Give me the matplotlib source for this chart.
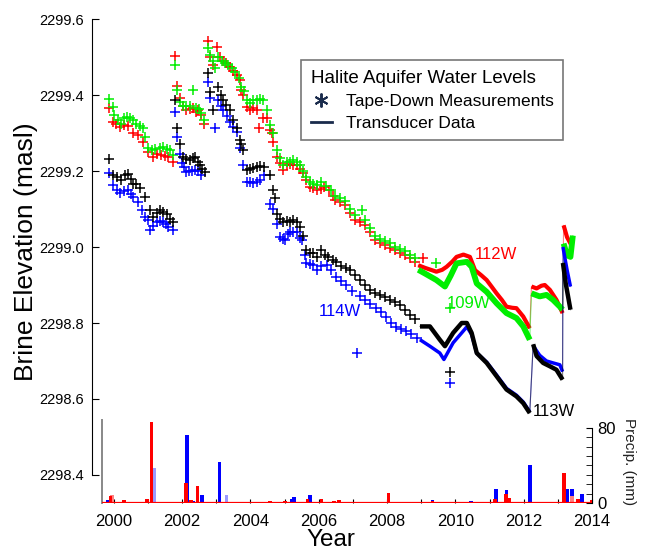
import numpy as np
import matplotlib
matplotlib.use("Agg")
import matplotlib.pyplot as plt
from matplotlib.lines import Line2D

plt.rcParams["font.family"] = ["Liberation Sans", "DejaVu Sans"]

# ---- tape-down measurements (year, brine elevation in masl) ----
red_tape_t = [1999.86, 1999.98, 2000.05, 2000.18, 2000.30, 2000.42, 2000.57, 2000.71, 2000.86, 2001.00,
              2001.15, 2001.27, 2001.39, 2001.50, 2001.59, 2001.73,
              2001.80, 2001.86, 2001.93, 2002.03, 2002.12, 2002.22, 2002.32, 2002.41, 2002.47, 2002.56, 2002.63,
              2002.74, 2002.82, 2002.90, 2003.02, 2003.10, 2003.20, 2003.29, 2003.39, 2003.49, 2003.59,
              2003.68, 2003.73, 2003.78, 2003.88, 2003.97, 2004.07, 2004.17, 2004.24, 2004.37, 2004.47,
              2004.56, 2004.61, 2004.66, 2004.76, 2004.85, 2004.95, 2005.05, 2005.15, 2005.24, 2005.34,
              2005.44, 2005.54, 2005.63, 2005.73, 2005.83, 2005.93, 2006.05, 2006.15, 2006.30, 2006.40,
              2006.46, 2006.60, 2006.75, 2006.90, 2007.05, 2007.20, 2007.34, 2007.50, 2007.63, 2007.78,
              2007.92, 2008.07, 2008.22, 2008.36, 2008.51, 2008.65, 2008.80, 2009.05]
red_tape_v = [2299.365, 2299.330, 2299.325, 2299.317, 2299.320, 2299.318, 2299.300, 2299.295, 2299.277, 2299.251,
              2299.238, 2299.245, 2299.242, 2299.240, 2299.238, 2299.225,
              2299.503, 2299.424, 2299.391, 2299.370, 2299.360, 2299.362, 2299.365, 2299.355, 2299.360, 2299.347, 2299.325,
              2299.543, 2299.500, 2299.480, 2299.527, 2299.500, 2299.490, 2299.483, 2299.474, 2299.462, 2299.452,
              2299.440, 2299.413, 2299.400, 2299.369, 2299.360, 2299.365, 2299.360, 2299.312, 2299.339, 2299.340,
              2299.308, 2299.300, 2299.277, 2299.238, 2299.220, 2299.203, 2299.215, 2299.218, 2299.216, 2299.216,
              2299.205, 2299.194, 2299.176, 2299.159, 2299.155, 2299.150, 2299.152, 2299.159, 2299.150, 2299.135,
              2299.124, 2299.118, 2299.111, 2299.090, 2299.071, 2299.065, 2299.058, 2299.040, 2299.018, 2299.010,
              2299.005, 2298.998, 2298.992, 2298.985, 2298.979, 2298.970, 2298.961, 2298.970]

green_tape_t = [1999.86, 1999.98, 2000.01, 2000.13, 2000.22, 2000.30, 2000.37, 2000.47, 2000.57, 2000.66,
                2000.76, 2000.86, 2000.91, 2001.00, 2001.10, 2001.20, 2001.35, 2001.45, 2001.55, 2001.65, 2001.73,
                2001.80, 2001.86, 2001.93, 2002.03, 2002.12, 2002.22, 2002.32, 2002.41, 2002.50, 2002.56, 2002.63,
                2002.74, 2002.80, 2002.90, 2002.95, 2003.05, 2003.15, 2003.25, 2003.35, 2003.45, 2003.55,
                2003.65, 2003.73, 2003.80, 2003.88, 2003.97, 2004.07, 2004.17, 2004.27, 2004.37, 2004.47,
                2004.56, 2004.66, 2004.76, 2004.85, 2004.95, 2005.05, 2005.15, 2005.24, 2005.34, 2005.44,
                2005.54, 2005.63, 2005.73, 2005.83, 2005.93, 2006.05, 2006.20, 2006.35, 2006.46, 2006.60,
                2006.75, 2006.90, 2007.05, 2007.25, 2007.34, 2007.50, 2007.63, 2007.78, 2007.92, 2008.07,
                2008.22, 2008.36, 2008.51, 2008.65, 2008.80, 2009.43, 2009.83]
green_tape_v = [2299.389, 2299.369, 2299.347, 2299.334, 2299.325, 2299.340, 2299.343, 2299.339, 2299.334, 2299.325,
                2299.318, 2299.312, 2299.290, 2299.260, 2299.255, 2299.258, 2299.260, 2299.262, 2299.258, 2299.255, 2299.242,
                2299.479, 2299.413, 2299.382, 2299.370, 2299.372, 2299.370, 2299.413, 2299.365, 2299.362, 2299.352, 2299.335,
                2299.523, 2299.505, 2299.490, 2299.470, 2299.500, 2299.490, 2299.485, 2299.478, 2299.470, 2299.460,
                2299.445, 2299.420, 2299.410, 2299.387, 2299.378, 2299.387, 2299.387, 2299.390, 2299.387, 2299.360,
                2299.320, 2299.300, 2299.255, 2299.235, 2299.215, 2299.225, 2299.225, 2299.228, 2299.225, 2299.215,
                2299.200, 2299.185, 2299.170, 2299.165, 2299.162, 2299.170, 2299.160, 2299.150, 2299.135, 2299.130,
                2299.120, 2299.100, 2299.085, 2299.097, 2299.070, 2299.050, 2299.030, 2299.020, 2299.015, 2299.010,
                2299.000, 2298.995, 2298.990, 2298.980, 2298.970, 2298.957, 2298.840]

black_tape_t = [1999.86, 1999.98, 2000.08, 2000.22, 2000.32, 2000.42, 2000.50, 2000.57, 2000.66, 2000.76,
                2000.91, 2001.05, 2001.15, 2001.25, 2001.35, 2001.45, 2001.54, 2001.64, 2001.73,
                2001.80, 2001.86, 2001.93, 2002.03, 2002.12, 2002.22, 2002.30, 2002.37, 2002.45, 2002.51, 2002.58, 2002.66,
                2002.74, 2002.81, 2002.90, 2003.05, 2003.12, 2003.20, 2003.29, 2003.39, 2003.49, 2003.59,
                2003.68, 2003.73, 2003.78, 2003.88, 2003.97, 2004.07, 2004.17, 2004.27, 2004.40, 2004.56,
                2004.66, 2004.71, 2004.76, 2004.85, 2004.95, 2005.05, 2005.15, 2005.24, 2005.34, 2005.44,
                2005.54, 2005.63, 2005.73, 2005.83, 2005.93, 2006.07, 2006.17, 2006.27, 2006.40, 2006.50,
                2006.65, 2006.80, 2006.90, 2007.05, 2007.19, 2007.35, 2007.49, 2007.63, 2007.78, 2007.92,
                2008.07, 2008.22, 2008.36, 2008.50, 2008.65, 2008.80, 2009.83]
black_tape_v = [2299.231, 2299.189, 2299.185, 2299.176, 2299.190, 2299.192, 2299.180, 2299.167, 2299.165, 2299.154,
                2299.132, 2299.097, 2299.079, 2299.090, 2299.097, 2299.093, 2299.088, 2299.075, 2299.066,
                2299.387, 2299.312, 2299.270, 2299.238, 2299.232, 2299.229, 2299.235, 2299.238, 2299.225, 2299.216, 2299.205, 2299.198,
                2299.457, 2299.409, 2299.360, 2299.420, 2299.400, 2299.387, 2299.375, 2299.360, 2299.335, 2299.312,
                2299.282, 2299.270, 2299.255, 2299.203, 2299.205, 2299.208, 2299.210, 2299.212, 2299.210, 2299.190,
                2299.150, 2299.130, 2299.088, 2299.075, 2299.066, 2299.068, 2299.066, 2299.070, 2299.066, 2299.053,
                2299.030, 2298.992, 2298.985, 2298.983, 2298.975, 2298.992, 2298.980, 2298.975, 2298.965, 2298.960,
                2298.950, 2298.945, 2298.940, 2298.925, 2298.913, 2298.900, 2298.887, 2298.880, 2298.874, 2298.868,
                2298.861, 2298.855, 2298.847, 2298.835, 2298.821, 2298.810, 2298.670]

blue_tape_t = [1999.86, 1999.98, 2000.08, 2000.18, 2000.30, 2000.42, 2000.50, 2000.57, 2000.71, 2000.81,
               2000.90, 2001.00, 2001.05, 2001.15, 2001.25, 2001.35, 2001.44, 2001.52, 2001.59, 2001.73,
               2001.80, 2001.86, 2001.93, 2001.98, 2002.05, 2002.12, 2002.20, 2002.27, 2002.37, 2002.47, 2002.56,
               2002.74, 2002.81, 2002.95, 2003.05, 2003.12, 2003.20, 2003.30, 2003.39, 2003.49, 2003.59,
               2003.68, 2003.78, 2003.88, 2003.97, 2004.07, 2004.17, 2004.27, 2004.40, 2004.56, 2004.66,
               2004.76, 2004.85, 2004.95, 2005.00, 2005.10, 2005.15, 2005.24, 2005.34, 2005.44, 2005.49,
               2005.58, 2005.63, 2005.73, 2005.83, 2005.93, 2006.07, 2006.22, 2006.35, 2006.50, 2006.65,
               2006.80, 2006.95, 2007.10, 2007.20, 2007.35, 2007.50, 2007.65, 2007.80, 2007.95, 2008.10,
               2008.25, 2008.40, 2008.55, 2008.70, 2008.85, 2009.83]
blue_tape_v = [2299.194, 2299.163, 2299.150, 2299.141, 2299.148, 2299.150, 2299.140, 2299.132, 2299.119, 2299.097,
               2299.080, 2299.071, 2299.044, 2299.055, 2299.066, 2299.068, 2299.066, 2299.060, 2299.053, 2299.044,
               2299.356, 2299.290, 2299.246, 2299.220, 2299.210, 2299.198, 2299.200, 2299.200, 2299.202, 2299.200, 2299.189,
               2299.435, 2299.391, 2299.312, 2299.387, 2299.370, 2299.360, 2299.345, 2299.330, 2299.315, 2299.303,
               2299.260, 2299.216, 2299.172, 2299.170, 2299.168, 2299.170, 2299.175, 2299.190, 2299.114, 2299.101,
               2299.060, 2299.027, 2299.020, 2299.018, 2299.035, 2299.040, 2299.040, 2299.040, 2299.025, 2299.018,
               2298.980, 2298.957, 2298.955, 2298.953, 2298.940, 2298.950, 2298.953, 2298.940, 2298.920, 2298.910,
               2298.900, 2298.885, 2298.720, 2298.870, 2298.860, 2298.850, 2298.840, 2298.830, 2298.815, 2298.800,
               2298.790, 2298.785, 2298.778, 2298.770, 2298.760, 2298.642]

# ---- transducer records ----
red_tr_t = [2008.90, 2009.10, 2009.43, 2009.60, 2009.73, 2009.90, 2010.02, 2010.22, 2010.41, 2010.56, 2010.75,
            2010.90, 2011.05, 2011.19, 2011.35, 2011.48, 2011.65, 2011.77, 2011.97, 2012.16,
            2012.21, 2012.36, 2012.50, 2012.60, 2012.75, 2012.94, 2013.12,
            2013.15, 2013.25, 2013.35, 2013.42]
red_tr_v = [2298.952, 2298.945, 2298.935, 2298.940, 2298.948, 2298.962, 2298.974, 2298.980, 2298.974, 2298.939, 2298.925,
            2298.913, 2298.895, 2298.878, 2298.860, 2298.843, 2298.840, 2298.839, 2298.817, 2298.786,
            2298.896, 2298.891, 2298.898, 2298.900, 2298.887, 2298.861, 2298.826,
            2299.057, 2299.026, 2299.009, 2299.026]

green_tr_t = [2008.90, 2009.10, 2009.43, 2009.68, 2009.85, 2010.02, 2010.32, 2010.46, 2010.61, 2010.90,
              2011.19, 2011.48, 2011.77, 2011.97, 2012.16,
              2012.21, 2012.45, 2012.65, 2012.84, 2013.04, 2013.12,
              2013.15, 2013.25, 2013.35, 2013.42]
green_tr_v = [2298.940, 2298.930, 2298.913, 2298.896, 2298.925, 2298.957, 2298.961, 2298.948, 2298.904, 2298.882,
              2298.852, 2298.826, 2298.813, 2298.791, 2298.756,
              2298.878, 2298.870, 2298.874, 2298.861, 2298.843, 2298.835,
              2299.009, 2298.978, 2298.974, 2299.030]

black_tr_t = [2008.95, 2009.24, 2009.53, 2009.68, 2009.92, 2010.17, 2010.32, 2010.46, 2010.61, 2010.90,
              2011.19, 2011.48, 2011.77, 2011.97, 2012.16,
              2012.26, 2012.36, 2012.55, 2012.75, 2012.94, 2013.12,
              2013.13, 2013.21, 2013.35]
black_tr_v = [2298.791, 2298.791, 2298.756, 2298.739, 2298.774, 2298.800, 2298.800, 2298.774, 2298.721, 2298.695,
              2298.660, 2298.625, 2298.607, 2298.589, 2298.563,
              2298.744, 2298.713, 2298.695, 2298.686, 2298.677, 2298.651,
              2298.958, 2298.905, 2298.835]

blue_tr_t = [2008.95, 2009.24, 2009.53, 2009.65, 2009.92, 2010.17, 2010.32, 2010.46, 2010.61, 2010.90,
             2011.19, 2011.48, 2011.77, 2011.97, 2012.16,
             2012.26, 2012.45, 2012.65, 2012.84, 2013.04, 2013.12,
             2013.13, 2013.25, 2013.35]
blue_tr_v = [2298.756, 2298.739, 2298.721, 2298.704, 2298.748, 2298.774, 2298.790, 2298.770, 2298.721, 2298.697,
             2298.663, 2298.628, 2298.610, 2298.592, 2298.566,
             2298.740, 2298.715, 2298.700, 2298.695, 2298.690, 2298.672,
             2299.000, 2298.940, 2298.896]

# logger swaps where the records jump
tr_breaks = [2012.18, 2013.125]

# ---- monthly precipitation (mm), two gauges ----
rain_blue_t = [1999.83, 2000.40, 2002.15, 2002.33, 2002.58, 2003.09, 2005.20, 2005.28, 2005.75, 2006.65,
               2009.33, 2010.45, 2011.20, 2011.50, 2012.18, 2013.27, 2013.42, 2013.70]
rain_blue = [3.5, 1.5, 73, 2, 9, 44, 4, 6.5, 9, 1.5,
             3.5, 2.5, 15.4, 13.6, 40, 15, 15, 10]
rain_red_t = [1999.90, 2000.30, 2000.98, 2001.10, 2002.12, 2002.25, 2002.45, 2004.58, 2005.00, 2005.67,
              2006.08, 2006.45, 2006.60, 2008.04, 2009.33, 2011.17, 2011.48, 2011.58, 2013.18, 2013.60, 2014.00]
rain_red = [7, 3.6, 4.5, 86, 21.5, 3, 18.6, 2.5, 2.5, 4.3,
            4.7, 1.8, 3.6, 11, 2.5, 4, 10, 5.4, 31.5, 4, 3]
rain_faint_blue_t = [1999.97, 2001.17, 2003.30, 2012.40]
rain_faint_blue = [3, 37, 8.3, 1]
rain_faint_red_t = [1999.95, 2013.42]
rain_faint_red = [8, 7]

W, H = 649, 550
fig = plt.figure(figsize=(W / 100, H / 100), dpi=100)

X0, X1 = 1999.36, 2013.98
ax_left, ax_right = 92, 592
ax = fig.add_axes([ax_left / W, (H - 475) / H, (ax_right - ax_left) / W, 456 / H])
ax.patch.set_alpha(0)

# precipitation panel shares the same year scale, its left edge sits a bit further in
p_left = 102
px0 = X0 + (p_left - ax_left) / (ax_right - ax_left) * (X1 - X0)
axp = fig.add_axes([p_left / W, (H - 503) / H, (ax_right - p_left) / W, 83 / H])
axp.patch.set_alpha(0)

wells = [
    (red_tape_t, red_tape_v, red_tr_t, red_tr_v, "#ff0000", 3.0),
    (green_tape_t, green_tape_v, green_tr_t, green_tr_v, "#00ee00", 4.2),
    (blue_tape_t, blue_tape_v, blue_tr_t, blue_tr_v, "#0000ff", 2.5),
    (black_tape_t, black_tape_v, black_tr_t, black_tr_v, "#000000", 3.2),
]

for tt, tv, rt, rv, col, lw in wells:
    ax.plot(tt, tv, ls="none", marker="+", ms=6.5, mew=1.1, color=col)
    rt = np.array(rt)
    rv = np.array(rv)
    ax.plot(rt, rv, color=col, lw=0.8, alpha=0.5)
    cuts = np.searchsorted(rt, tr_breaks)
    for seg_t, seg_v in zip(np.split(rt, cuts), np.split(rv, cuts)):
        ax.plot(seg_t, seg_v, color=col, lw=lw, solid_capstyle="butt")

ax.text(2010.56, 2298.979, "112W", color="#ff0000", fontsize=12, va="center")
ax.text(2009.74, 2298.850, "109W", color="#00ee00", fontsize=12, va="center")
ax.text(2005.99, 2298.829, "114W", color="#0000ff", fontsize=12, va="center")
ax.text(2012.25, 2298.568, "113W", color="#000000", fontsize=12, va="center")

ax.set_xlim(X0, X1)
ax.set_ylim(2298.4, 2299.6)
ax.set_yticks(np.arange(2298.4, 2299.61, 0.2))
ax.set_yticklabels(["%.1f" % v for v in np.arange(2298.4, 2299.61, 0.2)])
ax.set_xticks([])
for s in ["top", "right", "bottom"]:
    ax.spines[s].set_visible(False)
ax.tick_params(axis="y", direction="in", length=5, labelsize=10.5, pad=6)
ax.set_ylabel("Brine Elevation (masl)", fontsize=19)
ax.yaxis.set_label_coords(-0.108, 0.49)

# precipitation bars
bw = 0.11
axp.bar(rain_faint_blue_t, rain_faint_blue, width=bw, color="#9a9aff", zorder=1)
axp.bar(rain_blue_t, rain_blue, width=bw, color="#0000ff", zorder=2)
axp.bar(rain_faint_red_t, rain_faint_red, width=bw, color="#ff8080", zorder=2)
axp.bar(rain_red_t, rain_red, width=bw, color="#ff0000", zorder=3)
axp.axhline(0, color="#ff0000", lw=1.6, zorder=4)

axp.set_xlim(px0, X1)
axp.set_ylim(0, 88.5)
axp.spines["top"].set_visible(False)
axp.spines["bottom"].set_visible(False)
axp.spines["left"].set_color("#888888")
axp.spines["left"].set_linewidth(1.4)
axp.spines["right"].set_bounds(0, 80)
axp.yaxis.tick_right()
axp.set_yticks([0, 80])
axp.set_yticks(np.arange(10, 80, 10), minor=True)
axp.tick_params(axis="y", which="both", direction="in", length=4, labelsize=12, pad=4)
axp.set_xticks(np.arange(2000, 2015, 1))
axp.set_xticklabels([str(y) if y % 2 == 0 else "" for y in range(2000, 2015)])
axp.tick_params(axis="x", direction="in", length=3, labelsize=12, pad=8)
axp.yaxis.set_label_position("right")
axp.set_ylabel("Precip. (mm)", fontsize=11, rotation=270, labelpad=14, color="#222222")
axp.set_xlabel("Year", fontsize=17.5)
axp.xaxis.set_label_coords(0.467, -0.31)

navy = "#1a2b4c"
handles = [
    Line2D([], [], ls="none", marker=(6, 2, 0), ms=10, mew=1.4, color=navy, label="Tape-Down Measurements"),
    Line2D([], [], color=navy, lw=2, label="Transducer Data"),
]
leg = ax.legend(handles=handles, title="Halite Aquifer Water Levels", loc="upper right",
                bbox_to_anchor=(563 / W, (H - 60) / H), bbox_transform=fig.transFigure,
                fontsize=12.5, title_fontsize=13.5, frameon=True, fancybox=False,
                edgecolor="#555555", handlelength=1.2, handletextpad=0.8, borderpad=0.55,
                labelspacing=0.4, alignment="left", borderaxespad=0)
leg.get_frame().set_linewidth(1.2)

fig.savefig("out.png", dpi=100)
